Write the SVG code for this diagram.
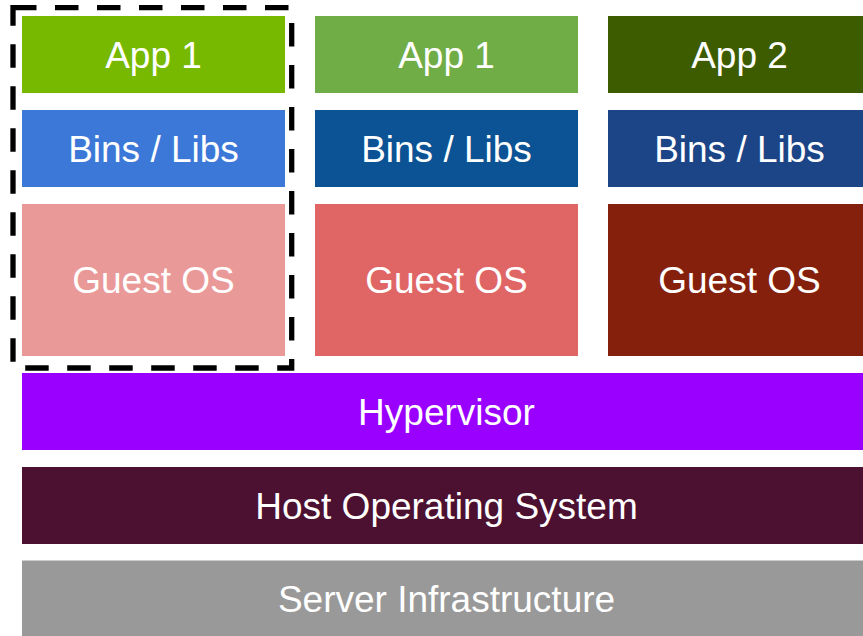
<svg xmlns="http://www.w3.org/2000/svg" width="863" height="636" viewBox="0 0 863 636">
  <style>
    .lbl { font-family: "Liberation Sans", Arial, sans-serif; font-size: 37px; fill: #ffffff; text-anchor: middle; }
    .sel { fill: none; stroke: #000000; stroke-width: 5.3; stroke-dasharray: 23.5 18.5; stroke-linejoin: miter; }
  </style>
  <rect width="863" height="636" fill="#ffffff"/>

  <!-- Stack 1 -->
  <g id="app1-a">
    <rect x="22" y="16" width="263" height="77" fill="#76b900"/>
    <text class="lbl" x="153.5" y="67.8">App 1</text>
  </g>
  <g id="libs-a">
    <rect x="22" y="110" width="263" height="77" fill="#3c78d8"/>
    <text class="lbl" x="153.5" y="161.8">Bins / Libs</text>
  </g>
  <g id="guest-a">
    <rect x="22" y="204" width="263" height="152" fill="#ea9999"/>
    <text class="lbl" x="153.5" y="293.3">Guest OS</text>
  </g>

  <!-- Stack 2 -->
  <g id="app1-b">
    <rect x="315" y="16" width="263" height="77" fill="#70ad47"/>
    <text class="lbl" x="446.5" y="67.8">App 1</text>
  </g>
  <g id="libs-b">
    <rect x="315" y="110" width="263" height="77" fill="#0b5394"/>
    <text class="lbl" x="446.5" y="161.8">Bins / Libs</text>
  </g>
  <g id="guest-b">
    <rect x="315" y="204" width="263" height="152" fill="#e06666"/>
    <text class="lbl" x="446.5" y="293.3">Guest OS</text>
  </g>

  <!-- Stack 3 -->
  <g id="app2-c">
    <rect x="608" y="16" width="263" height="77" fill="#3d5c00"/>
    <text class="lbl" x="739.5" y="67.8">App 2</text>
  </g>
  <g id="libs-c">
    <rect x="608" y="110" width="263" height="77" fill="#1c4587"/>
    <text class="lbl" x="739.5" y="161.8">Bins / Libs</text>
  </g>
  <g id="guest-c">
    <rect x="608" y="204" width="263" height="152" fill="#85200c"/>
    <text class="lbl" x="739.5" y="293.3">Guest OS</text>
  </g>

  <!-- Shared layers -->
  <g id="hypervisor">
    <rect x="22" y="373" width="849" height="77" fill="#9900ff"/>
    <text class="lbl" x="446.5" y="424.8">Hypervisor</text>
  </g>
  <g id="host-os">
    <rect x="22" y="467" width="849" height="77" fill="#4c1130"/>
    <text class="lbl" x="446.5" y="518.8">Host Operating System</text>
  </g>
  <g id="server">
    <rect x="22" y="560.5" width="849" height="77" fill="#999999"/>
    <text class="lbl" x="446.5" y="612.3">Server Infrastructure</text>
  </g>

  <!-- Dashed outline around the first stack -->
  <g id="connectors">
    <rect class="sel" x="13" y="7.7" width="278.7" height="360.3"/>
  </g>
</svg>
